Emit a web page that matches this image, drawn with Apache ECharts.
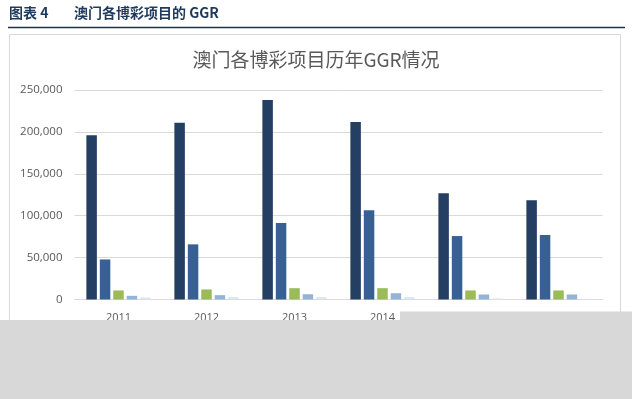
<!DOCTYPE html>
<html>
<head>
<meta charset="utf-8">
<script src="https://cdn.jsdelivr.net/npm/echarts@6/dist/echarts.min.js"></script>
<style>
  html, body { margin: 0; padding: 0; background: #fff; }
  #main { width: 632px; height: 399px; }
</style>
</head>
<body>
<div id="main"></div>
<script>
// 年份
var years = ['2011', '2012', '2013', '2014', '2015', '2016'];
// 各博彩项目 GGR（百万澳门元，按图读取的估计值）
var vipBaccarat = [196000, 210800, 238000, 211700, 126800, 118400];
var massBaccarat = [47800, 65800, 91300, 106500, 75700, 77000];
var slots = [10800, 12000, 13500, 13500, 10800, 10800];
var roulette = [4400, 5200, 6300, 7500, 6000, 6000];
var others = [2400, 2800, 2800, 2800, 1200, 800];
// 纵轴刻度
var yTicks = [0, 50000, 100000, 150000, 200000, 250000];

var seriesNames = ['VIP百家乐', '中场百家乐', '角子机', '骰宝', '其他'];
var seriesData = [vipBaccarat, massBaccarat, slots, roulette, others];
var seriesColors = ['#253f63', '#386093', '#9bbb59', '#95b3d7', '#dce6f2'];

var fontCn = '"Noto Sans CJK SC", "Open Sans", sans-serif';

var chart = echarts.init(document.getElementById('main'));

var option = {
  animation: false,
  backgroundColor: '#fff',
  title: {
    text: '澳门各博彩项目历年GGR情况',
    left: 'center',
    top: 45,
    textStyle: {
      color: '#595959',
      fontSize: 19,
      fontWeight: 'normal',
      fontFamily: fontCn
    }
  },
  grid: {
    left: 74.5,
    right: 29.5,
    top: 90,
    bottom: 99.5
  },
  xAxis: {
    type: 'category',
    data: years,
    axisLine: { lineStyle: { color: '#d9d9d9' } },
    axisTick: { show: false },
    axisLabel: {
      color: '#595959',
      fontSize: 11,
      margin: 13,
      fontFamily: 'Open Sans, sans-serif'
    }
  },
  yAxis: {
    type: 'value',
    min: yTicks[0],
    max: yTicks[yTicks.length - 1],
    interval: yTicks[1] - yTicks[0],
    axisLine: { show: false },
    axisTick: { show: false },
    splitLine: { lineStyle: { color: '#d9d9d9' } },
    axisLabel: {
      color: '#595959',
      fontSize: 11.5,
      margin: 12,
      fontFamily: 'Open Sans, sans-serif',
      formatter: function (v) {
        return v.toString().replace(/\B(?=(\d{3})+(?!\d))/g, ',');
      }
    }
  },
  series: seriesNames.map(function (name, i) {
    return {
      name: name,
      type: 'bar',
      data: seriesData[i],
      barWidth: 10.5,
      barGap: '28%',
      itemStyle: { color: seriesColors[i] }
    };
  }),
  graphic: [
    // 图表外框
    {
      type: 'rect',
      shape: { x: 9.5, y: 34.5, width: 611, height: 300 },
      style: { fill: 'none', stroke: '#d9d9d9', lineWidth: 1 },
      z: 0
    },
    // 标题栏
    {
      type: 'text',
      left: 9,
      top: 6,
      style: {
        text: '图表 4',
        font: 'bold 14px ' + fontCn,
        fill: '#1f3a5c'
      }
    },
    {
      type: 'text',
      left: 74,
      top: 6,
      style: {
        text: '澳门各博彩项目的 GGR',
        font: 'bold 14px ' + fontCn,
        fill: '#1f3a5c'
      }
    },
    {
      type: 'line',
      shape: { x1: 8, y1: 27.5, x2: 625, y2: 27.5 },
      style: { stroke: '#1f3346', lineWidth: 1.5 }
    },
    // 灰色遮挡
    {
      type: 'rect',
      shape: { x: 0, y: 320, width: 632, height: 79 },
      style: { fill: '#d8d8d8' },
      z: 100
    },
    {
      type: 'rect',
      shape: { x: 400, y: 311.5, width: 232, height: 10 },
      style: { fill: '#d8d8d8' },
      z: 100
    }
  ]
};

chart.setOption(option);
</script>
</body>
</html>
